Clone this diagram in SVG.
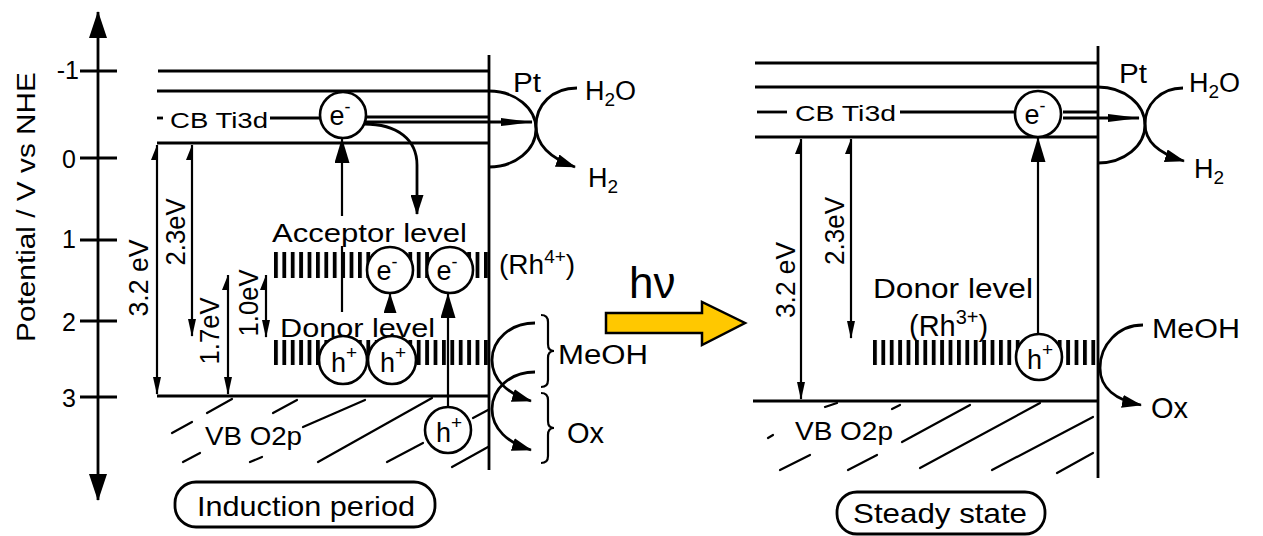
<svg xmlns="http://www.w3.org/2000/svg" width="1263" height="536" viewBox="0 0 1263 536">
<style>
text{font-family:"Liberation Sans",Arial,sans-serif;fill:#000}
.ln{stroke:#000;stroke-width:2.8;fill:none}
.th{stroke:#000;stroke-width:2.2;fill:none}
.hat{stroke:#000;stroke-width:2.2;fill:none;stroke-linecap:round}
.circ{fill:#fff;stroke:#000;stroke-width:2.6}
.lab{font-size:26px}
.sm{font-size:26px}
.pc{font-size:27px}
.tick{font-size:25px;text-anchor:end}
.ctr{text-anchor:middle}
</style>
<defs>
<pattern id="bars" x="274" y="0" width="8.4" height="40" patternUnits="userSpaceOnUse">
<rect x="0" y="0" width="3.8" height="40" fill="#000"/>
</pattern>
<pattern id="bars2" x="873" y="0" width="8.4" height="40" patternUnits="userSpaceOnUse">
<rect x="0" y="0" width="3.8" height="40" fill="#000"/>
</pattern>
<marker id="ax" markerWidth="27" markerHeight="18" refX="26" refY="9" orient="auto-start-reverse" markerUnits="userSpaceOnUse">
<path d="M0,0 L27,9 L0,18 Z" fill="#000"/>
</marker>
<marker id="ah" markerWidth="25" markerHeight="15" refX="24" refY="7.5" orient="auto" markerUnits="userSpaceOnUse">
<path d="M0,0 L25,7.5 L0,15 Z" fill="#000"/>
</marker>
<marker id="as" markerWidth="20" markerHeight="13" refX="19" refY="6.5" orient="auto" markerUnits="userSpaceOnUse">
<path d="M0,0 L20,6.5 L0,13 Z" fill="#000"/>
</marker>
<marker id="at" markerWidth="32" markerHeight="8" refX="31" refY="4" orient="auto" markerUnits="userSpaceOnUse">
<path d="M0,0 L32,4 L0,8 Z" fill="#000"/>
</marker>
<marker id="ag" markerWidth="18" markerHeight="8" refX="17" refY="4" orient="auto" markerUnits="userSpaceOnUse">
<path d="M0,0 L18,4 L0,8 Z" fill="#000"/>
</marker>
<marker id="hb" markerWidth="16" markerHeight="12" refX="15" refY="6" orient="auto-start-reverse" markerUnits="userSpaceOnUse">
<path d="M15,6 L0,0 L0,6 Z" fill="#000"/>
</marker>
</defs>
<rect width="1263" height="536" fill="#fff"/>

<!-- ===== Left panel: axis ===== -->
<g id="axis">
<line class="ln" x1="98" y1="12" x2="98" y2="500" marker-start="url(#ax)" marker-end="url(#ax)"/>
<line class="ln" x1="80" y1="71" x2="117" y2="71"/>
<line class="ln" x1="80" y1="158" x2="117" y2="158"/>
<line class="ln" x1="80" y1="240" x2="117" y2="240"/>
<line class="ln" x1="80" y1="321" x2="117" y2="321"/>
<line class="ln" x1="80" y1="397" x2="117" y2="397"/>
<text class="tick" x="79" y="79">-1</text>
<text class="tick" x="76" y="168">0</text>
<text class="tick" x="76" y="248">1</text>
<text class="tick" x="76" y="331">2</text>
<text class="tick" x="76" y="407">3</text>
<text class="ctr" x="35" y="207" font-size="25" textLength="270" lengthAdjust="spacingAndGlyphs" transform="rotate(-90 35 207)">Potential / V vs NHE</text>
</g>

<!-- ===== Left panel: bands ===== -->
<g id="left-bands">
<line class="ln" x1="158" y1="71" x2="489" y2="71"/>
<line class="ln" x1="157" y1="91" x2="489" y2="91"/>
<line class="ln" x1="157" y1="118" x2="163" y2="118"/>
<text x="170" y="128" font-size="22" textLength="98" lengthAdjust="spacingAndGlyphs">CB Ti3d</text>
<line class="ln" x1="270" y1="118" x2="321" y2="118"/>
<line class="ln" x1="365" y1="117" x2="489" y2="117"/>
<line class="ln" x1="157" y1="143" x2="489" y2="143"/>
<line class="ln" x1="157" y1="396" x2="489" y2="396"/>
<line class="ln" x1="489" y1="55" x2="489" y2="470"/>
</g>

<g id="left-vb">
<text x="205" y="445" class="sm" textLength="97" lengthAdjust="spacingAndGlyphs">VB O2p</text>
<path class="hat" d="M172,433 L192,422 M207,413 L232,399 M273,413 L297,400 M303,427 L365,400 M318,462 L432,398 M183,462 L200,453 M250,462 L262,457 M387,462 L423,443 M452,467 L488,447 M473,418 L488,410"/>
</g>

<!-- energy gap arrows left -->
<g id="left-gaps">
<line class="th" x1="157" y1="145" x2="157" y2="394" marker-start="url(#hb)" marker-end="url(#ag)"/>
<text class="ctr" x="148" y="278" font-size="27" textLength="77" lengthAdjust="spacingAndGlyphs" transform="rotate(-90 148 278)">3.2 eV</text>
<line class="th" x1="192" y1="145" x2="192" y2="336" marker-start="url(#hb)" marker-end="url(#ag)"/>
<text class="ctr" x="185" y="232" font-size="27" textLength="67" lengthAdjust="spacingAndGlyphs" transform="rotate(-90 185 232)">2.3eV</text>
<line class="th" x1="228" y1="275" x2="228" y2="394" marker-start="url(#hb)" marker-end="url(#ag)"/>
<text class="ctr" x="219" y="331" font-size="27" textLength="67" lengthAdjust="spacingAndGlyphs" transform="rotate(-90 219 331)">1.7eV</text>
<line class="th" x1="266" y1="275" x2="266" y2="337" marker-start="url(#hb)" marker-end="url(#ag)"/>
<text class="ctr" x="258" y="303" font-size="27" textLength="67" lengthAdjust="spacingAndGlyphs" transform="rotate(-90 258 303)">1.0eV</text>
</g>

<!-- acceptor / donor levels left -->
<g id="acceptor-level">
<text x="272" y="242" class="lab" textLength="195" lengthAdjust="spacingAndGlyphs">Acceptor level</text>
<rect x="274" y="252" width="214" height="26" fill="url(#bars)"/>
<text x="499" y="274" font-size="28">(Rh<tspan font-size="19" dy="-11">4+</tspan><tspan dy="11">)</tspan></text>
</g>
<g id="donor-level">
<text x="280" y="337" class="lab" textLength="155" lengthAdjust="spacingAndGlyphs">Donor level</text>
<rect x="274" y="340" width="214" height="25" fill="url(#bars)"/>
</g>

<!-- connectors left -->
<g id="connectors-left">
<line class="th" x1="342" y1="312" x2="342" y2="246"/>
<line class="th" x1="342" y1="216" x2="342" y2="139" marker-end="url(#ah)"/>
<path class="ln" d="M364,124 C398,124 417,140 417,165 L417,214" marker-end="url(#as)"/>
<line class="ln" x1="365" y1="122" x2="532" y2="122" marker-end="url(#at)"/>
<line class="th" x1="390" y1="313" x2="390" y2="294" marker-end="url(#as)"/>
<line class="th" x1="448" y1="407" x2="448" y2="294" marker-end="url(#ah)"/>
<path class="ln" d="M489,91 A47,38 0 0 1 489,167"/>
<path class="ln" d="M577,88 C552,88 536,105 536,126 C536,145 550,158 575,167" marker-end="url(#as)"/>
<path class="ln" d="M535,323 C510,323 492,340 492,360 C492,380 508,394 531,401" marker-end="url(#as)"/>
<path class="ln" d="M535,372 C510,372 492,389 492,409 C492,429 508,443 531,450" marker-end="url(#as)"/>
<path class="th" d="M541,315 Q548,315 548,322 L548,344 Q548,351 554,351 Q548,351 548,358 L548,380 Q548,387 541,387"/>
<path class="th" d="M541,393 Q548,393 548,400 L548,421 Q548,428 554,428 Q548,428 548,435 L548,456 Q548,463 541,463"/>
</g>

<!-- particles left -->
<g id="cb-electron-left">
<circle class="circ" cx="343" cy="115" r="23"/>
<text class="pc ctr" x="340" y="125">e<tspan font-size="18" dy="-12">-</tspan></text>
</g>
<g id="acc-electron-1">
<circle class="circ" cx="390" cy="270" r="23"/>
<text class="pc ctr" x="387" y="280">e<tspan font-size="18" dy="-12">-</tspan></text>
</g>
<g id="acc-electron-2">
<circle class="circ" cx="450" cy="270" r="23"/>
<text class="pc ctr" x="447" y="280">e<tspan font-size="18" dy="-12">-</tspan></text>
</g>
<g id="donor-hole-1">
<circle class="circ" cx="343" cy="360" r="24"/>
<text class="pc ctr" x="344" y="372">h<tspan font-size="19" dy="-13">+</tspan></text>
</g>
<g id="donor-hole-2">
<circle class="circ" cx="392" cy="360" r="24"/>
<text class="pc ctr" x="393" y="372">h<tspan font-size="19" dy="-13">+</tspan></text>
</g>
<g id="vb-hole">
<circle class="circ" cx="448" cy="430" r="23"/>
<text class="pc ctr" x="449" y="442">h<tspan font-size="19" dy="-13">+</tspan></text>
</g>

<g id="left-labels">
<text x="513" y="92" font-size="27" textLength="28" lengthAdjust="spacingAndGlyphs">Pt</text>
<text x="585" y="100" font-size="27">H<tspan font-size="19" dy="6">2</tspan><tspan dy="-6">O</tspan></text>
<text x="588" y="187" font-size="27">H<tspan font-size="19" dy="6">2</tspan></text>
<text x="558" y="364" font-size="27" textLength="90" lengthAdjust="spacingAndGlyphs">MeOH</text>
<text x="567" y="443" font-size="29">Ox</text>
</g>

<g id="induction-period">
<rect x="175" y="482" width="260" height="45" rx="21" class="ln"/>
<text x="197" y="516" font-size="28" textLength="218" lengthAdjust="spacingAndGlyphs">Induction period</text>
</g>

<!-- ===== hv arrow ===== -->
<g id="hv">
<text x="629" y="298" font-size="44">hν</text>
<path d="M606,313 L702,313 L702,302 L745,323 L702,345 L702,333 L606,333 Z" fill="#FFC800" stroke="#000" stroke-width="2.5"/>
</g>

<!-- ===== Right panel ===== -->
<g id="right-bands">
<line class="ln" x1="755" y1="63" x2="1098" y2="63"/>
<line class="ln" x1="755" y1="87" x2="1098" y2="87"/>
<line class="ln" x1="757" y1="112" x2="787" y2="112"/>
<text x="795" y="121" font-size="22" textLength="101" lengthAdjust="spacingAndGlyphs">CB Ti3d</text>
<line class="ln" x1="900" y1="112" x2="1015" y2="112"/>
<line class="ln" x1="1063" y1="112" x2="1098" y2="112"/>
<line class="ln" x1="755" y1="137" x2="1098" y2="137"/>
<line class="ln" x1="753" y1="401" x2="1098" y2="401"/>
<line class="ln" x1="1098" y1="46" x2="1098" y2="478"/>
</g>

<g id="right-vb">
<text x="795" y="440" class="sm" textLength="98" lengthAdjust="spacingAndGlyphs">VB O2p</text>
<path class="hat" d="M768,438 L773,435 M825,407 L837,403 M892,409 L900,405 M902,442 L970,405 M780,470 L810,455 M848,470 L877,455 M920,468 L1040,403 M992,470 L1093,417 M1057,473 L1093,453"/>
</g>

<g id="right-gaps">
<line class="th" x1="801" y1="139" x2="801" y2="399" marker-start="url(#hb)" marker-end="url(#ag)"/>
<text class="ctr" x="795" y="280" font-size="27" textLength="76" lengthAdjust="spacingAndGlyphs" transform="rotate(-90 795 280)">3.2 eV</text>
<line class="th" x1="851" y1="139" x2="851" y2="338" marker-start="url(#hb)" marker-end="url(#ag)"/>
<text class="ctr" x="844" y="231" font-size="27" textLength="68" lengthAdjust="spacingAndGlyphs" transform="rotate(-90 844 231)">2.3eV</text>
</g>

<g id="right-donor-level">
<text x="873" y="298" font-size="27" textLength="160" lengthAdjust="spacingAndGlyphs">Donor level</text>
<text x="909" y="336" font-size="29">(Rh<tspan font-size="20" dy="-12">3+</tspan><tspan dy="12">)</tspan></text>
<rect x="873" y="340" width="225" height="25" fill="url(#bars2)"/>
</g>

<g id="connectors-right">
<line class="th" x1="1038" y1="334" x2="1038" y2="138" marker-end="url(#ah)"/>
<line class="ln" x1="1063" y1="118" x2="1139" y2="118" marker-end="url(#at)"/>
<path class="ln" d="M1098,87 A47,38 0 0 1 1098,163"/>
<path class="ln" d="M1183,88 C1160,88 1145,105 1145,124 C1145,142 1160,154 1184,161" marker-end="url(#as)"/>
<path class="ln" d="M1143,325 C1118,325 1100,345 1100,368 C1100,388 1116,400 1141,405" marker-end="url(#as)"/>
</g>

<g id="cb-electron-right">
<circle class="circ" cx="1038" cy="114" r="23"/>
<text class="pc ctr" x="1035" y="124">e<tspan font-size="18" dy="-12">-</tspan></text>
</g>
<g id="donor-hole-right">
<circle class="circ" cx="1039" cy="357" r="23"/>
<text class="pc ctr" x="1040" y="369">h<tspan font-size="19" dy="-13">+</tspan></text>
</g>

<g id="right-labels">
<text x="1119" y="83" font-size="27" textLength="28" lengthAdjust="spacingAndGlyphs">Pt</text>
<text x="1189" y="92" font-size="27">H<tspan font-size="19" dy="6">2</tspan><tspan dy="-6">O</tspan></text>
<text x="1194" y="178" font-size="27">H<tspan font-size="19" dy="6">2</tspan></text>
<text x="1152" y="338" font-size="27" textLength="88" lengthAdjust="spacingAndGlyphs">MeOH</text>
<text x="1151" y="418" font-size="29">Ox</text>
</g>

<g id="steady-state">
<rect x="837" y="492" width="208" height="42" rx="20" class="ln"/>
<text x="853" y="523" font-size="28" textLength="174" lengthAdjust="spacingAndGlyphs">Steady state</text>
</g>
</svg>
